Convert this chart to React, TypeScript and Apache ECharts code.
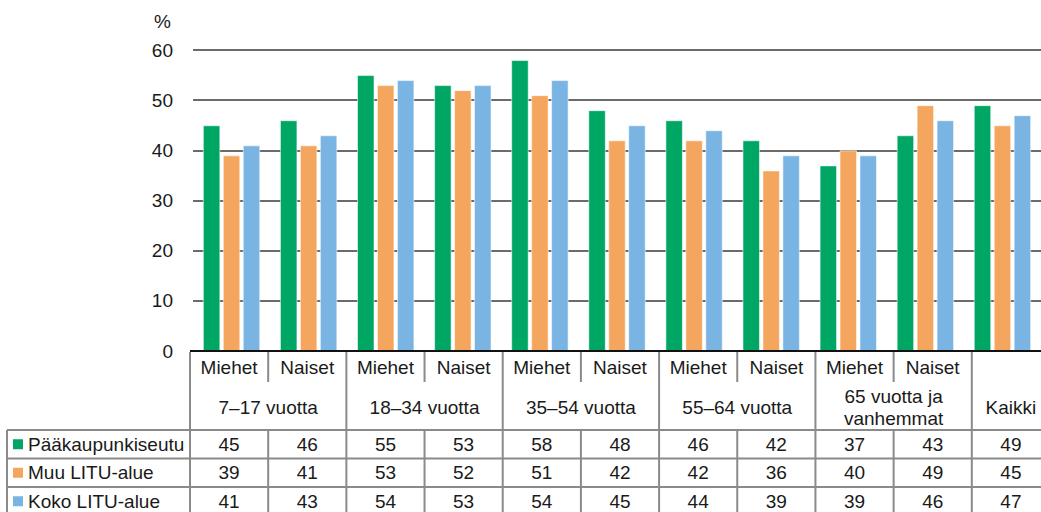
import React, { useEffect, useRef } from "react";
import * as echarts from "echarts";

// ---- Data ----
const ageGroups = ["7–17 vuotta", "18–34 vuotta", "35–54 vuotta", "55–64 vuotta", "65 vuotta ja\nvanhemmat"];
const totalLabel = "Kaikki";
const sexes = ["Miehet", "Naiset"];
const seriesNames = ["Pääkaupunkiseutu", "Muu LITU-alue", "Koko LITU-alue"];
const paakaupunkiseutu = [45, 46, 55, 53, 58, 48, 46, 42, 37, 43, 49];
const muuLituAlue = [39, 41, 53, 52, 51, 42, 42, 36, 40, 49, 45];
const kokoLituAlue = [41, 43, 54, 53, 54, 45, 44, 39, 39, 46, 47];
const yMin = 0;
const yMax = 60;
const yInterval = 10;
const yUnit = "%";

const seriesValues = [paakaupunkiseutu, muuLituAlue, kokoLituAlue];
const categories = ageGroups
  .flatMap((g) => sexes.map((s) => `${g.replace("\n", " ")} ${s}`))
  .concat([totalLabel]);

// ---- Styles ----
const colors = ["#00A663", "#F5A65E", "#7AB4E3"];
const FONT_FAMILY = '"Liberation Sans", Arial, Helvetica, sans-serif';
const FONT_SIZE = 19;
const FONT = `${FONT_SIZE}px ${FONT_FAMILY}`;
const TEXT_COLOR = "#1a1a1a";
const TABLE_LINE = "#8a8a8a";

// ---- Layout ----
const W = 1041;
const H = 512;
const GRID_TOP = 50;
const GRID_HEIGHT = 301;
const COL_W = 78.18;
const N_COLS = categories.length;
const TABLE_LEFT = 190;
const BAR_SHIFT = 3;
const TABLE_TOP = 352;
const SUB_ROW_BOTTOM = 382;
const HEADER_BOTTOM = 430;
const ROW_H = 28.5;
const LEGEND_LEFT = 7;

function txt(text: string, x: number, y: number, align = "center", extra: any = {}) {
  return {
    type: "text",
    silent: true,
    z: 10,
    style: {
      text,
      x,
      y,
      font: FONT,
      fill: TEXT_COLOR,
      align,
      verticalAlign: "middle",
      textAlign: align,
      textVerticalAlign: "middle",
      ...extra,
    },
  };
}

function ln(x1: number, y1: number, x2: number, y2: number, stroke = TABLE_LINE, lineWidth = 2) {
  return {
    type: "line",
    silent: true,
    z: 9,
    shape: { x1, y1, x2, y2 },
    style: { stroke, lineWidth },
  };
}

function buildTable() {
  const els: any[] = [];
  const colX = (k: number) => TABLE_LEFT + COL_W * k;
  const bottom = HEADER_BOTTOM + ROW_H * seriesNames.length;

  // vertical lines
  for (let k = 0; k <= N_COLS; k++) {
    const isGroupBoundary = k % 2 === 0 || k >= N_COLS - 1;
    if (isGroupBoundary) {
      els.push(ln(colX(k), TABLE_TOP, colX(k), bottom));
    } else {
      els.push(ln(colX(k), TABLE_TOP, colX(k), SUB_ROW_BOTTOM));
      els.push(ln(colX(k), HEADER_BOTTOM, colX(k), bottom));
    }
  }
  // left border of legend block
  els.push(ln(LEGEND_LEFT, HEADER_BOTTOM, LEGEND_LEFT, bottom));
  // horizontal row lines
  for (let r = 0; r <= seriesNames.length; r++) {
    const y = HEADER_BOTTOM + ROW_H * r;
    els.push(ln(LEGEND_LEFT, y, colX(N_COLS), y));
  }
  // axis / top line
  els.push(ln(TABLE_LEFT, TABLE_TOP - 1, colX(N_COLS), TABLE_TOP - 1, "#111", 2));

  // sub labels
  for (let k = 0; k < ageGroups.length * sexes.length; k++) {
    els.push(txt(sexes[k % sexes.length], colX(k) + COL_W / 2, (TABLE_TOP + SUB_ROW_BOTTOM) / 2 + 0.5));
  }
  // group labels
  const groupY = (SUB_ROW_BOTTOM + HEADER_BOTTOM) / 2 + 1;
  ageGroups.forEach((g, i) => {
    els.push(txt(g, colX(2 * i + 1), groupY, "center", { lineHeight: 22 }));
  });
  els.push(txt(totalLabel, colX(N_COLS - 1) + COL_W / 2, groupY));

  // legend + values
  seriesNames.forEach((name, r) => {
    const cy = HEADER_BOTTOM + ROW_H * r + ROW_H / 2;
    els.push({
      type: "rect",
      silent: true,
      z: 10,
      shape: { x: 13, y: cy - 5, width: 10, height: 10 },
      style: { fill: colors[r] },
    });
    els.push(txt(name, 28, cy, "left"));
    seriesValues[r].forEach((v, k) => {
      els.push(txt(String(v), colX(k) + COL_W / 2, cy));
    });
  });
  return els;
}

export default function App() {
  const ref = useRef<HTMLDivElement>(null);

  useEffect(() => {
    if (!ref.current) return;
    const chart = echarts.init(ref.current, undefined, { renderer: "svg" });
    chart.setOption({
      animation: false,
      backgroundColor: "#ffffff",
      textStyle: { fontFamily: FONT_FAMILY },
      grid: {
        left: TABLE_LEFT + BAR_SHIFT,
        top: GRID_TOP,
        width: COL_W * N_COLS,
        height: GRID_HEIGHT,
        containLabel: false,
      },
      xAxis: {
        type: "category",
        data: categories,
        axisLine: { show: false },
        axisTick: { show: false },
        axisLabel: { show: false },
        splitLine: { show: false },
      },
      yAxis: {
        type: "value",
        min: yMin,
        max: yMax,
        interval: yInterval,
        name: yUnit,
        nameLocation: "end",
        nameGap: 29,
        nameTextStyle: {
          fontSize: FONT_SIZE,
          color: TEXT_COLOR,
          align: "right",
          verticalAlign: "middle",
          padding: [0, 22, 0, 0],
          fontFamily: FONT_FAMILY,
        },
        axisLine: { show: false },
        axisTick: { show: false },
        axisLabel: { fontSize: FONT_SIZE, color: TEXT_COLOR, margin: 20, fontFamily: FONT_FAMILY },
        splitLine: { show: true, lineStyle: { color: "#3a3a3a", width: 1.5 } },
      },
      series: seriesNames.map((name, i) => ({
        type: "bar",
        name,
        data: seriesValues[i],
        barWidth: 17.5,
        barGap: "14%",
        itemStyle: { color: colors[i], borderColor: "rgba(255,255,255,0.55)", borderWidth: 1 },
      })),
      graphic: buildTable(),
    });
    return () => chart.dispose();
  }, []);

  return (
    <div
      ref={ref}
      style={{ position: "absolute", left: 0, top: 0, width: W, height: H, background: "#fff" }}
    />
  );
}
